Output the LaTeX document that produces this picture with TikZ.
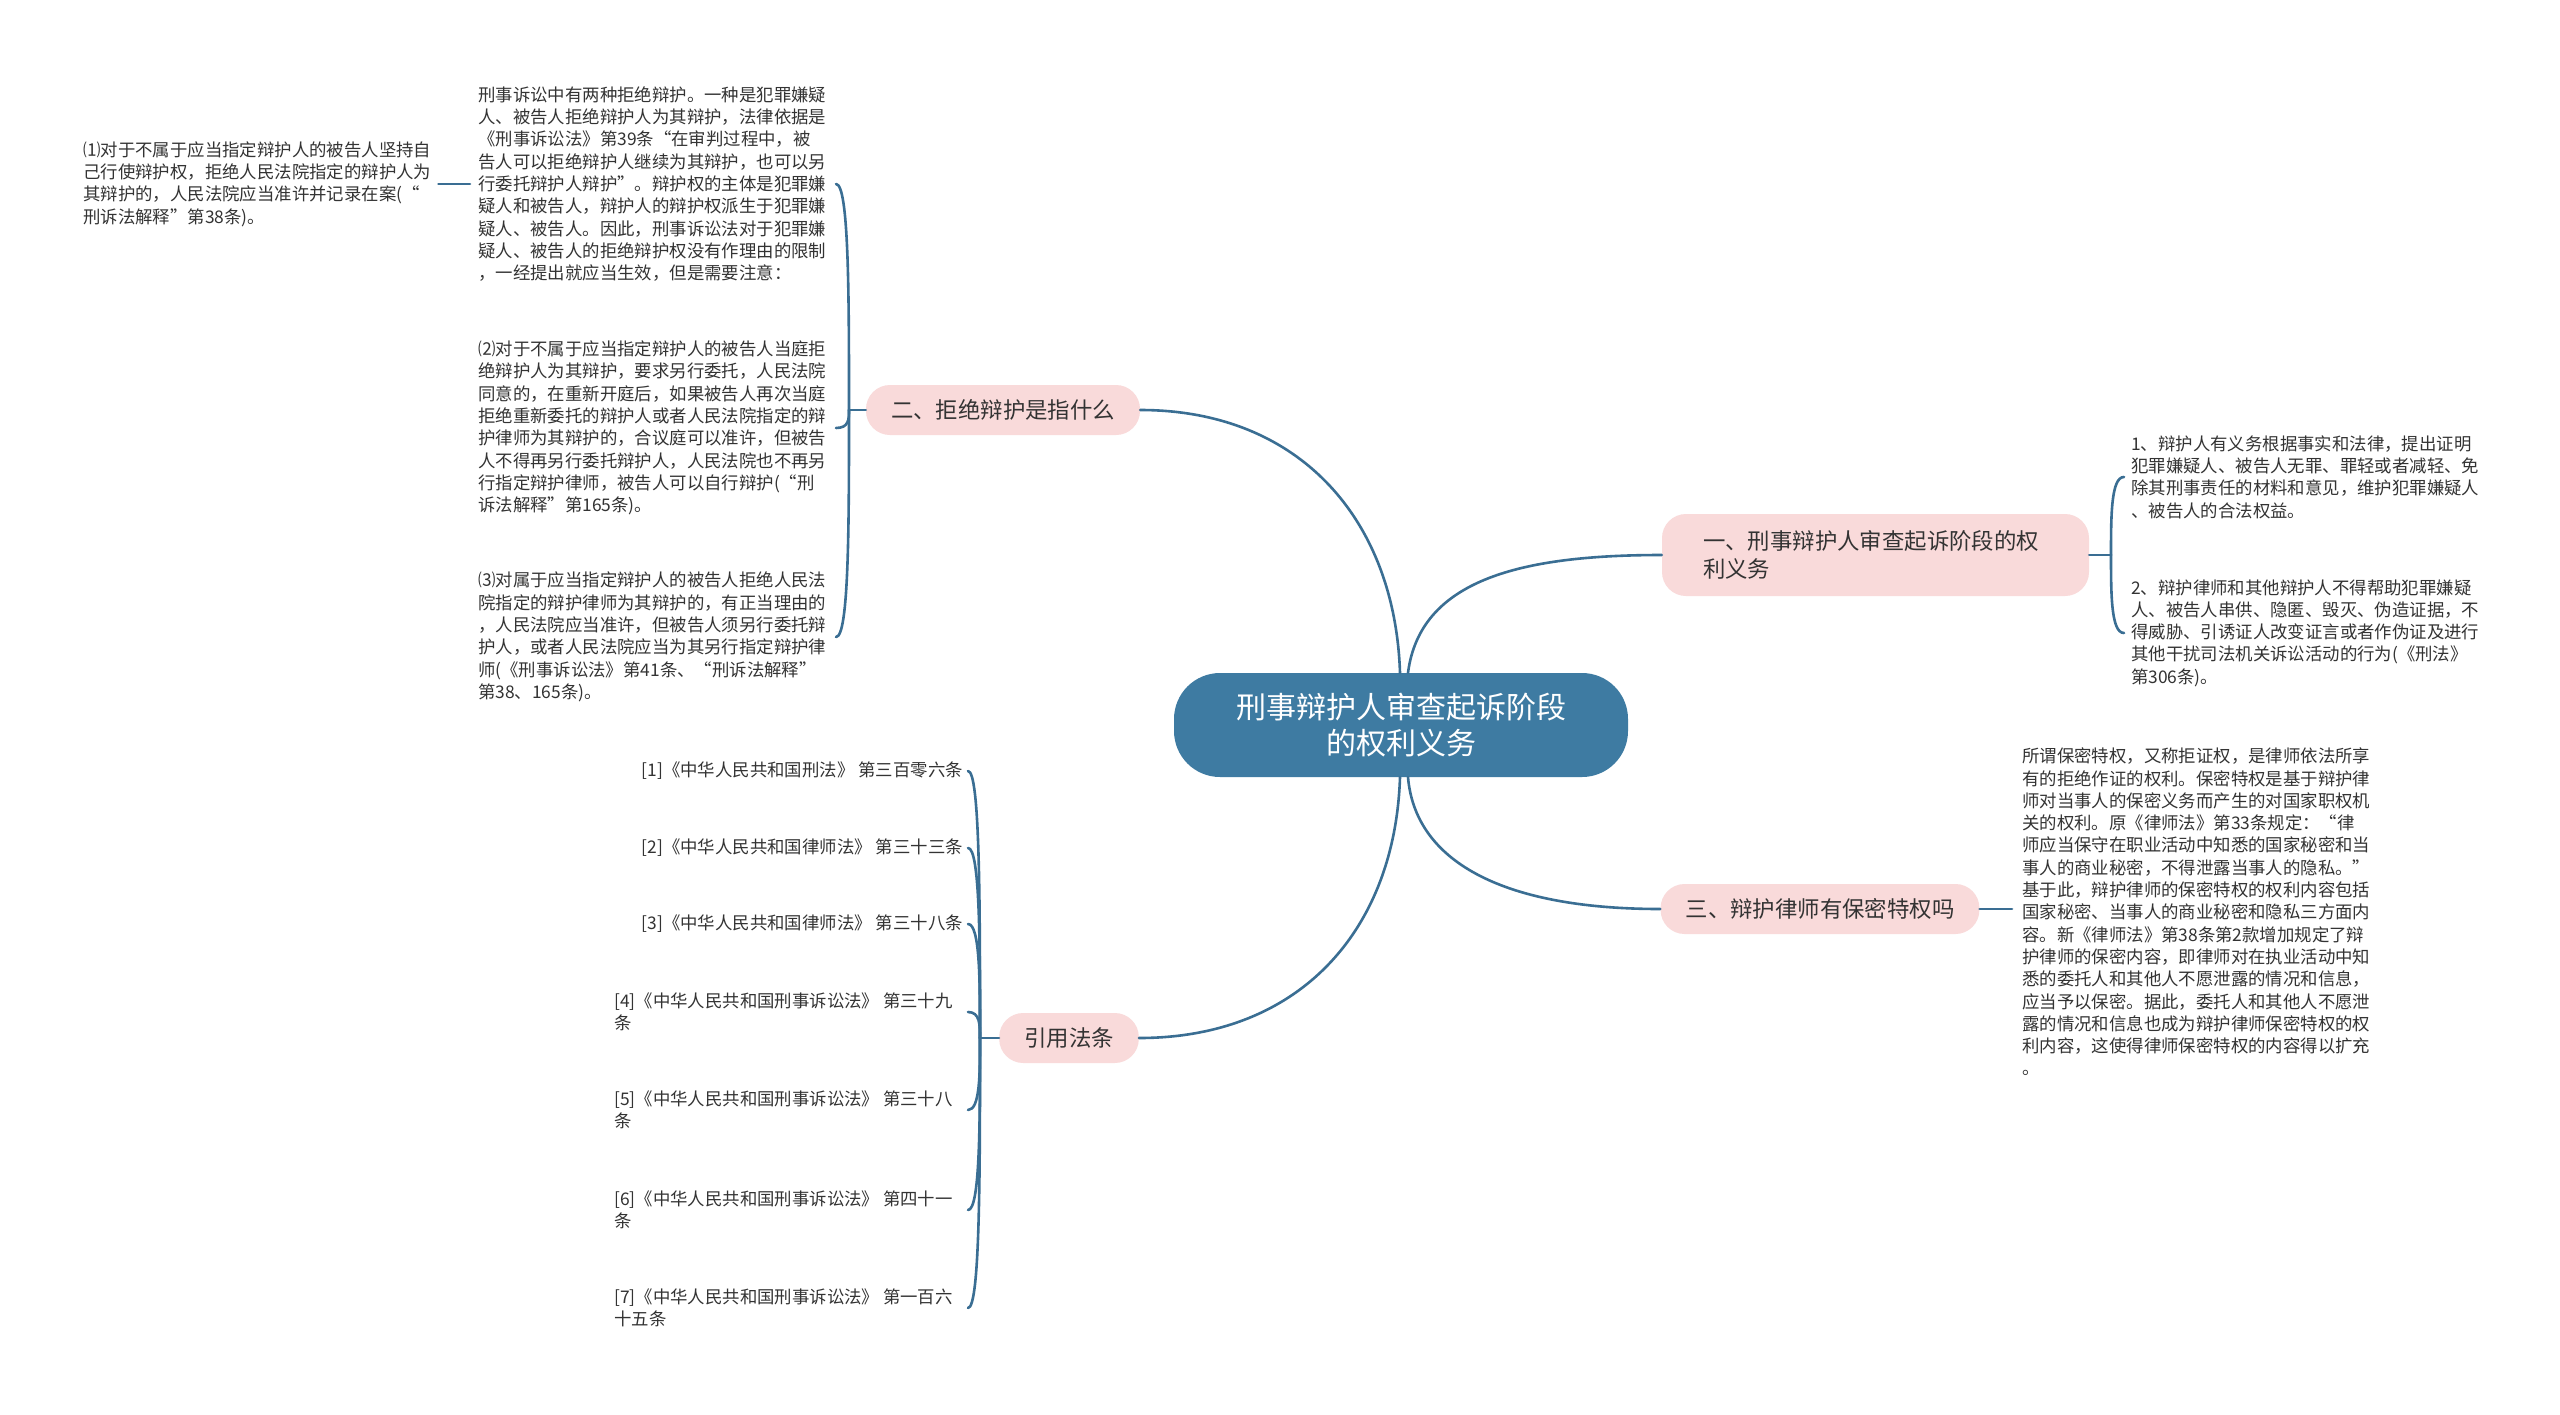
\documentclass[tikz,border=0pt]{standalone}
\usepackage{fontspec}
\setmainfont{Noto Sans CJK SC}
\usetikzlibrary{calc}
\definecolor{cblue}{HTML}{3E7BA2}
\definecolor{lblue}{HTML}{3A6E93}
\definecolor{pinkf}{HTML}{F9DADA}
\definecolor{txt}{HTML}{333333}
\tikzset{
  root/.style={fill=cblue, text=white, rounded corners=46pt, minimum height=104pt,
    inner xsep=62pt, align=center, font=\fontsize{30}{36}\selectfont},
  br/.style={fill=pinkf, text=txt, rounded corners=24pt, minimum height=50pt,
    inner xsep=25pt, font=\fontsize{22.4}{28}\selectfont},
  leaf/.style={text=txt, align=left, inner sep=0pt, font=\fontsize{17.4}{22.3}\selectfont},
  ref/.style={text=txt, align=left, inner sep=0pt, font=\fontsize{17.4}{21.5}\selectfont},
  link/.style={draw=lblue, line width=2.6pt, line cap=round}
}
\begin{document}
\begin{tikzpicture}[x=1pt, y=-1pt]
\fill[white] (0,0) rectangle (2560,1414);
\useasboundingbox (0,0) rectangle (2560,1414);

% central and branch nodes
\node[root] (c) at (1401,725) {刑事辩护人审查起诉阶段\\的权利义务};
\node[br, text width=345pt, inner xsep=41pt, minimum height=82pt, align=left] (b1) at (1875.5,555)
  {一、刑事辩护人审查起诉阶段的权\\利义务};
\node[br] (b2) at (1003,410) {二、拒绝辩护是指什么};
\node[br] (b3) at (1820,909) {三、辩护律师有保密特权吗};
\node[br] (b4) at (1069,1038) {引用法条};

% central connectors
\draw[link] ([xshift=7pt]c.north) .. controls (1420,580) and (1520,555) .. (b1.west);
\draw[link] ([xshift=-1pt]c.north) .. controls (1395,520) and (1300,410) .. (b2.east);
\draw[link] ([xshift=7pt]c.south) .. controls (1415,860) and (1500,909) .. (b3.west);
\draw[link] ([xshift=-1pt]c.south) .. controls (1395,930) and (1300,1038) .. (b4.east);

% branch one children
\node[leaf, anchor=west] (q1) at (2131,477) {1、辩护人有义务根据事实和法律，提出证明\\犯罪嫌疑人、被告人无罪、罪轻或者减轻、免\\除其刑事责任的材料和意见，维护犯罪嫌疑人\\、被告人的合法权益。};
\node[leaf, anchor=west] (q2) at (2131,633) {2、辩护律师和其他辩护人不得帮助犯罪嫌疑\\人、被告人串供、隐匿、毁灭、伪造证据，不\\得威胁、引诱证人改变证言或者作伪证及进行\\其他干扰司法机关诉讼活动的行为(《刑法》\\第306条)。};
\coordinate (j1) at (2111,555);
\draw[link] (b1.east) -- (j1);
\draw[link] (j1) .. controls ($(j1)!0.5!(j1 |- q1)$) and (j1 |- q1) .. ($(j1 |- q1)+(13,0)$);
\draw[link] (j1) .. controls ($(j1)!0.5!(j1 |- q2)$) and (j1 |- q2) .. ($(j1 |- q2)+(13,0)$);

% branch three child
\node[leaf, anchor=west] (s1) at (2022,912) {所谓保密特权，又称拒证权，是律师依法所享\\有的拒绝作证的权利。保密特权是基于辩护律\\师对当事人的保密义务而产生的对国家职权机\\关的权利。原《律师法》第33条规定：“律\\师应当保守在职业活动中知悉的国家秘密和当\\事人的商业秘密，不得泄露当事人的隐私。”\\基于此，辩护律师的保密特权的权利内容包括\\国家秘密、当事人的商业秘密和隐私三方面内\\容。新《律师法》第38条第2款增加规定了辩\\护律师的保密内容，即律师对在执业活动中知\\悉的委托人和其他人不愿泄露的情况和信息，\\应当予以保密。据此，委托人和其他人不愿泄\\露的情况和信息也成为辩护律师保密特权的权\\利内容，这使得律师保密特权的内容得以扩充\\。};
\draw[link] (b3.east) -- ([xshift=-10pt]s1.west |- b3.east);

% branch two children
\node[leaf, anchor=west] (pA) at (478,184) {刑事诉讼中有两种拒绝辩护。一种是犯罪嫌疑\\人、被告人拒绝辩护人为其辩护，法律依据是\\《刑事诉讼法》第39条“在审判过程中，被\\告人可以拒绝辩护人继续为其辩护，也可以另\\行委托辩护人辩护”。辩护权的主体是犯罪嫌\\疑人和被告人，辩护人的辩护权派生于犯罪嫌\\疑人、被告人。因此，刑事诉讼法对于犯罪嫌\\疑人、被告人的拒绝辩护权没有作理由的限制\\，一经提出就应当生效，但是需要注意：};
\node[leaf, anchor=west] (p1) at (83,184) {⑴对于不属于应当指定辩护人的被告人坚持自\\己行使辩护权，拒绝人民法院指定的辩护人为\\其辩护的，人民法院应当准许并记录在案(“\\刑诉法解释”第38条)。};
\node[leaf, anchor=west] (p2) at (478,428) {⑵对于不属于应当指定辩护人的被告人当庭拒\\绝辩护人为其辩护，要求另行委托，人民法院\\同意的，在重新开庭后，如果被告人再次当庭\\拒绝重新委托的辩护人或者人民法院指定的辩\\护律师为其辩护的，合议庭可以准许，但被告\\人不得再另行委托辩护人，人民法院也不再另\\行指定辩护律师，被告人可以自行辩护(“刑\\诉法解释”第165条)。};
\node[leaf, anchor=west] (p3) at (478,637) {⑶对属于应当指定辩护人的被告人拒绝人民法\\院指定的辩护律师为其辩护的，有正当理由的\\，人民法院应当准许，但被告人须另行委托辩\\护人，或者人民法院应当为其另行指定辩护律\\师(《刑事诉讼法》第41条、“刑诉法解释”\\第38、165条)。};
\draw[link] ([xshift=-8pt]pA.west |- p1.east) -- ([xshift=7pt]p1.east);
\coordinate (j2) at (849,410);
\draw[link] (b2.west) -- (j2);
\draw[link] (j2) .. controls ($(j2)!0.5!(j2 |- pA)$) and (j2 |- pA) .. ($(j2 |- pA)+(-13,0)$);
\draw[link] (j2) .. controls ($(j2)!0.5!(j2 |- p2)$) and (j2 |- p2) .. ($(j2 |- p2)+(-13,0)$);
\draw[link] (j2) .. controls ($(j2)!0.5!(j2 |- p3)$) and (j2 |- p3) .. ($(j2 |- p3)+(-13,0)$);

% references
\node[ref, anchor=east] (r1) at (963,771) {[1]《中华人民共和国刑法》 第三百零六条};
\node[ref, anchor=east] (r2) at (963,848) {[2]《中华人民共和国律师法》 第三十三条};
\node[ref, anchor=east] (r3) at (963,924) {[3]《中华人民共和国律师法》 第三十八条};
\node[ref, anchor=west] (r4) at (614,1012) {[4]《中华人民共和国刑事诉讼法》 第三十九\\条};
\node[ref, anchor=west] (r5) at (614,1110) {[5]《中华人民共和国刑事诉讼法》 第三十八\\条};
\node[ref, anchor=west] (r6) at (614,1210) {[6]《中华人民共和国刑事诉讼法》 第四十一\\条};
\node[ref, anchor=west] (r7) at (614,1308) {[7]《中华人民共和国刑事诉讼法》 第一百六\\十五条};
\coordinate (j4) at (980,1038);
\draw[link] (b4.west) -- (j4);
\foreach \r in {r1,r2,r3,r4,r5,r6,r7}{
  \draw[link] (j4) .. controls ($(j4)!0.5!(j4 |- \r)$) and (j4 |- \r) .. ($(j4 |- \r)+(-12,0)$);
}
\end{tikzpicture}
\end{document}
